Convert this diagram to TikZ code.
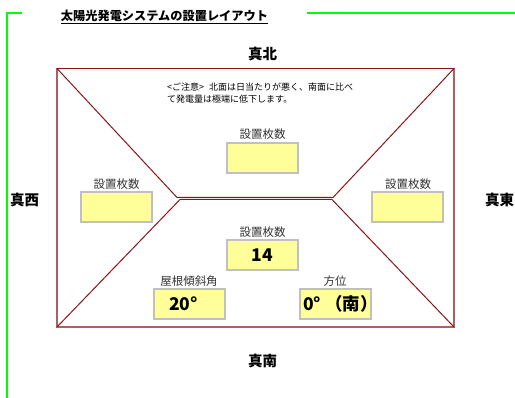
\documentclass[tikz,border=0pt]{standalone}
\usepackage{fontspec}
\setmainfont{Noto Sans CJK JP}
\usepackage{xcolor}
\definecolor{roof}{RGB}{140,20,25}
\definecolor{wall}{RGB}{175,95,95}
\definecolor{panel}{RGB}{255,255,153}
\definecolor{frame}{RGB}{192,192,192}
\tikzset{
	inputbox/.style={draw=frame, line width=2pt, fill=panel, minimum width=71pt, minimum height=30.5pt, inner sep=0pt, font=\fontsize{17.5}{17.5}\selectfont\bfseries},
	caption/.style={font=\fontsize{11.5}{12}\selectfont, inner sep=0pt, text=black!80},
	compass/.style={font=\fontsize{14.5}{14.5}\selectfont\bfseries, inner sep=0pt},
	roofline/.style={draw=roof, line width=1pt},
	greenline/.style={draw=green, line width=1.5pt}
}
\begin{document}
\begin{tikzpicture}[x=1pt, y=-1pt]
		\useasboundingbox (0,0) rectangle (515,398);
		\coordinate (g1) at (22,13);
		\coordinate (g2) at (7,13);
		\coordinate (g3) at (7,398);
		\coordinate (g4) at (307,13);
		\coordinate (g5) at (515,13);
		\draw[greenline] (g1) -- (g2) -- (g3);
		\draw[greenline] (g4) -- (g5);
		
		\coordinate (nw) at (57,68.5);
		\coordinate (ne) at (454,68.5);
		\coordinate (sw) at (57,327);
		\coordinate (se) at (454,327);
		\coordinate (r1) at (177,197.5);
		\coordinate (r2) at (333,197.5);
		\coordinate (r3) at (180,199.5);
		\coordinate (r4) at (332,199.5);
		\draw[draw=wall, line width=1.3pt] (ne) -- (se) -- (sw) -- (nw);
		\draw[roofline] (nw) -- (ne);
		\draw[roofline] (nw) -- (r1) -- (r2) -- (ne);
		\draw[roofline] (sw) -- (r3) -- (r4) -- (se);
		
		\node[inputbox] (north) at (262.5,158) {};
		\node[inputbox] (west) at (116.5,207) {};
		\node[inputbox] (east) at (407.5,207) {};
		\node[inputbox] (south) at (262.5,255) {14};
		\node[inputbox] (tilt) at (189.5,304) {\hspace*{-12pt}20°};
		\node[inputbox] (azimuth) at (335,304) {\hspace*{11pt}\makebox[0pt]{0° （南）}};
		
		\node[caption] (northcap) at (262.5,134.5) {設置枚数};
		\node[caption] (westcap) at (116.5,184) {設置枚数};
		\node[caption] (eastcap) at (408,184) {設置枚数};
		\node[caption] (southcap) at (262.5,232) {設置枚数};
		\node[caption] (tiltcap) at (189,281) {屋根傾斜角};
		\node[caption] (azimuthcap) at (335,281) {方位};
		
		\node[font=\fontsize{12.2}{12.2}\selectfont\bfseries, inner sep=0pt] (title) at (164.5,17) {\underline{太陽光発電システムの設置レイアウト}};
		\node[compass] (truenorth) at (262.5,54) {真北};
		\node[compass] (truesouth) at (262.5,361) {真南};
		\node[compass] (truewest) at (24.5,199.5) {真西};
		\node[compass] (trueeast) at (499.5,199.5) {真東};
		\node[font=\fontsize{9}{12}\selectfont, inner sep=0pt, anchor=north west, align=left] (note) at (167,83) {<ご注意>\hspace{3pt} 北面は日当たりが悪く、南面に比べ\\て発電量は極端に低下します。};
		\end{tikzpicture}
\end{document}
